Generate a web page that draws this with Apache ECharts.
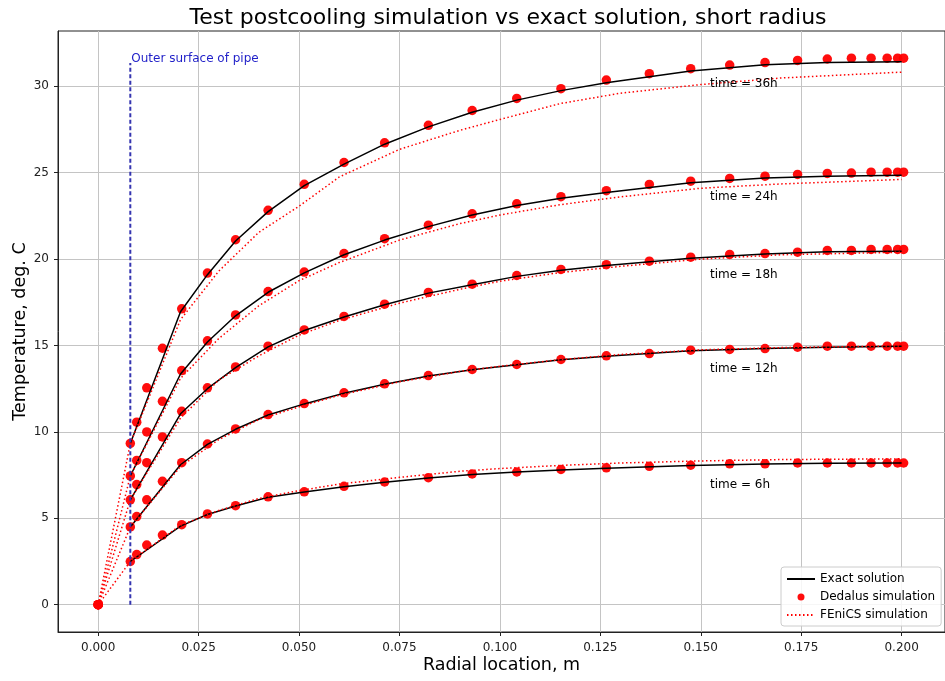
<!DOCTYPE html>
<html><head><meta charset="utf-8">
<script src="https://cdn.jsdelivr.net/npm/echarts@6/dist/echarts.min.js"></script>
<style>html,body{margin:0;padding:0;background:#fff}#c{width:945px;height:681px}</style>
</head><body><div id="c"></div>
<script>
// ---- Dedalus simulation (red dots) ----
const radiusDedalus = [0, 0.008, 0.0096, 0.0121, 0.016, 0.0208, 0.0272, 0.0342, 0.0423, 0.0513, 0.0612, 0.0713, 0.0822, 0.0931, 0.1042, 0.1152, 0.1265, 0.1372, 0.1475, 0.1572, 0.166, 0.1741, 0.1815, 0.1875, 0.1924, 0.1964, 0.199, 0.2005];
const dedalus6h  = [0, 2.5, 2.9, 3.45, 4.03, 4.63, 5.25, 5.73, 6.24, 6.53, 6.85, 7.1, 7.35, 7.57, 7.68, 7.83, 7.92, 8.01, 8.07, 8.15, 8.15, 8.2, 8.2, 8.2, 8.2, 8.2, 8.2, 8.2];
const dedalus12h = [0, 4.5, 5.1, 6.07, 7.14, 8.22, 9.3, 10.17, 11.0, 11.64, 12.26, 12.78, 13.26, 13.61, 13.9, 14.19, 14.4, 14.53, 14.73, 14.77, 14.82, 14.9, 14.96, 14.96, 14.96, 14.96, 14.96, 14.96];
const dedalus18h = [0, 6.07, 6.95, 8.22, 9.71, 11.19, 12.55, 13.76, 14.96, 15.9, 16.68, 17.39, 18.07, 18.55, 19.05, 19.4, 19.68, 19.88, 20.11, 20.27, 20.32, 20.4, 20.5, 20.5, 20.56, 20.56, 20.56, 20.56];
const dedalus24h = [0, 7.45, 8.35, 10.0, 11.77, 13.55, 15.27, 16.77, 18.12, 19.25, 20.32, 21.18, 21.96, 22.62, 23.2, 23.61, 23.96, 24.32, 24.51, 24.67, 24.8, 24.9, 24.96, 24.98, 25.03, 25.03, 25.03, 25.03];
const dedalus36h = [0, 9.33, 10.56, 12.55, 14.84, 17.12, 19.19, 21.12, 22.82, 24.33, 25.59, 26.73, 27.74, 28.6, 29.3, 29.86, 30.36, 30.73, 31.02, 31.23, 31.37, 31.5, 31.58, 31.63, 31.63, 31.63, 31.63, 31.63];

// ---- Exact solution (black line) ----
const radiusExact = [0.008, 0.0205, 0.0272, 0.0342, 0.0423, 0.0513, 0.0612, 0.0713, 0.0822, 0.0931, 0.1042, 0.1152, 0.1265, 0.1475, 0.166, 0.1815, 0.2];
const exact6h  = [2.5, 4.55, 5.22, 5.71, 6.22, 6.52, 6.83, 7.08, 7.33, 7.54, 7.68, 7.8, 7.9, 8.05, 8.14, 8.18, 8.2];
const exact12h = [4.5, 8.1, 9.28, 10.15, 10.98, 11.62, 12.24, 12.76, 13.24, 13.6, 13.88, 14.17, 14.38, 14.7, 14.82, 14.9, 14.96];
const exact18h = [6.07, 11.05, 12.5, 13.72, 14.92, 15.87, 16.65, 17.36, 18.03, 18.52, 19.0, 19.35, 19.63, 20.05, 20.3, 20.42, 20.46];
const exact24h = [7.45, 13.35, 15.2, 16.72, 18.08, 19.2, 20.25, 21.1, 21.88, 22.55, 23.1, 23.52, 23.86, 24.42, 24.7, 24.8, 24.85];
const exact36h = [9.33, 16.95, 19.1, 21.05, 22.75, 24.25, 25.5, 26.65, 27.65, 28.5, 29.2, 29.75, 30.2, 30.88, 31.25, 31.38, 31.42];

// ---- FEniCS simulation (red dotted line) ----
const radiusFenics = [0, 0.008, 0.0205, 0.03, 0.04, 0.05, 0.06, 0.075, 0.09, 0.1, 0.115, 0.13, 0.15, 0.17, 0.2];
const fenics6h  = [0, 2.5, 4.6, 5.45, 6.15, 6.6, 6.98, 7.37, 7.72, 7.88, 8.06, 8.2, 8.32, 8.4, 8.44];
const fenics12h = [0, 4.5, 8.0, 9.55, 10.72, 11.45, 12.12, 12.9, 13.5, 13.8, 14.18, 14.48, 14.75, 14.88, 14.98];
const fenics18h = [0, 6.07, 10.8, 13.0, 14.4, 15.6, 16.45, 17.45, 18.25, 18.72, 19.22, 19.58, 20.0, 20.25, 20.4];
const fenics24h = [0, 7.45, 13.1, 15.4, 17.3, 18.75, 19.8, 21.1, 22.05, 22.55, 23.15, 23.6, 24.1, 24.35, 24.61];
const fenics36h = [0, 9.33, 16.5, 19.3, 21.55, 23.06, 24.75, 26.35, 27.45, 28.08, 29.0, 29.6, 30.1, 30.48, 30.82];

// ---- ticks and annotations ----
const xTickValues = [0, 0.025, 0.05, 0.075, 0.1, 0.125, 0.15, 0.175, 0.2];
const yTickValues = [0, 5, 10, 15, 20, 25, 30];
const timeLabels = ['time = 6h', 'time = 12h', 'time = 18h', 'time = 24h', 'time = 36h'];
const timeLabelRadius = 0.1523;
const timeLabelTemps = [6.93, 13.64, 19.07, 23.6, 30.13];
const pipeRadius = 0.008;
const pipeLineTop = 31.35;
const pipeLabelTemp = 31.57;
const pipeLabel = 'Outer surface of pipe';

const FONT = 'DejaVu Sans';
const zip = (xs, ys) => xs.map((x, i) => [x, ys[i]]);

const dedalusSets = [dedalus6h, dedalus12h, dedalus18h, dedalus24h, dedalus36h];
const exactSets = [exact6h, exact12h, exact18h, exact24h, exact36h];
const fenicsSets = [fenics6h, fenics12h, fenics18h, fenics24h, fenics36h];

const series = [];
dedalusSets.forEach(ys => series.push({
  name: 'Dedalus simulation', type: 'scatter', data: zip(radiusDedalus, ys),
  symbol: 'circle', symbolSize: 9.5, itemStyle: {color: '#ff0000', opacity: 0.95}, z: 2
}));
exactSets.forEach(ys => series.push({
  name: 'Exact solution', type: 'line', data: zip(radiusExact, ys), symbol: 'none',
  lineStyle: {color: '#000000', width: 1.5}, itemStyle: {color: '#000000'}, z: 3
}));
fenicsSets.forEach(ys => series.push({
  name: 'FEniCS simulation', type: 'line', data: zip(radiusFenics, ys), symbol: 'none',
  lineStyle: {color: '#ff0000', width: 1.5, type: [1.5, 2.5]}, itemStyle: {color: '#ff0000'}, z: 4
}));
series.push({
  type: 'line', data: [[pipeRadius, 0], [pipeRadius, pipeLineTop]], symbol: 'none',
  lineStyle: {color: '#3535b0', width: 2, type: [4, 2.5]}, z: 5, silent: true
});
series.push({
  type: 'scatter', symbolSize: 0, z: 6, silent: true, itemStyle: {opacity: 1},
  data: timeLabels.map((t, i) => ({value: [timeLabelRadius, timeLabelTemps[i]], name: t}))
    .concat([{value: [pipeRadius, pipeLabelTemp], name: pipeLabel,
      label: {color: '#1f1fc8', offset: [1, 0]}}]),
  label: {show: true, position: [0, 0], align: 'left', verticalAlign: 'middle',
    formatter: p => p.name, fontSize: 12, fontFamily: FONT, color: '#000000', opacity: 1}
});

const chart = echarts.init(document.getElementById('c'));
chart.setOption({
  animation: false,
  backgroundColor: '#ffffff',
  title: {
    text: 'Test postcooling simulation vs exact solution, short radius',
    left: 503, top: 2, textAlign: 'center',
    textStyle: {fontSize: 22, fontWeight: 'normal', fontFamily: FONT, color: '#000'}
  },
  grid: {left: 58, top: 31, width: 893, height: 601, show: true, borderColor: '#222', borderWidth: 1, backgroundColor: '#fff'},
  legend: {
    orient: 'vertical', left: 781, top: 567, padding: [5, 6, 4, 5],
    itemWidth: 28, itemHeight: 7, itemGap: 4,
    backgroundColor: 'rgba(255,255,255,0.85)', borderColor: '#cccccc', borderWidth: 1, borderRadius: 3,
    textStyle: {fontSize: 12, fontFamily: FONT, color: '#000', lineHeight: 14},
    data: [
      {name: 'Exact solution', itemStyle: {opacity: 0}},
      {name: 'Dedalus simulation'},
      {name: 'FEniCS simulation', itemStyle: {opacity: 0}}
    ]
  },
  xAxis: {
    type: 'value', min: -0.01, max: 0.2108,
    name: 'Radial location, m', nameLocation: 'middle', nameGap: 24, nameMoveOverlap: false,
    nameTextStyle: {fontSize: 17.5, fontFamily: FONT, color: '#000', verticalAlign: 'top'},
    axisLine: {show: true, onZero: false, lineStyle: {color: '#222', width: 1}},
    axisTick: {show: true, inside: false, length: 4, lineStyle: {color: '#222'}, customValues: xTickValues},
    axisLabel: {customValues: xTickValues, formatter: v => v.toFixed(3), fontSize: 12, fontFamily: FONT, color: '#222', margin: 10},
    splitLine: {show: true, lineStyle: {color: '#c4c4c4', width: 1}}
  },
  yAxis: {
    type: 'value', min: -1.58, max: 33.2,
    name: 'Temperature, deg. C', nameLocation: 'middle', nameGap: 29, nameMoveOverlap: false,
    nameTextStyle: {fontSize: 17.5, fontFamily: FONT, color: '#000'},
    axisLine: {show: true, onZero: false, lineStyle: {color: '#222', width: 1}},
    axisTick: {show: true, inside: false, length: 4, lineStyle: {color: '#222'}, customValues: yTickValues},
    axisLabel: {customValues: yTickValues, formatter: v => String(v), fontSize: 12, fontFamily: FONT, color: '#222', margin: 9},
    splitLine: {show: true, lineStyle: {color: '#c4c4c4', width: 1}}
  },
  series: series
});
</script></body></html>
